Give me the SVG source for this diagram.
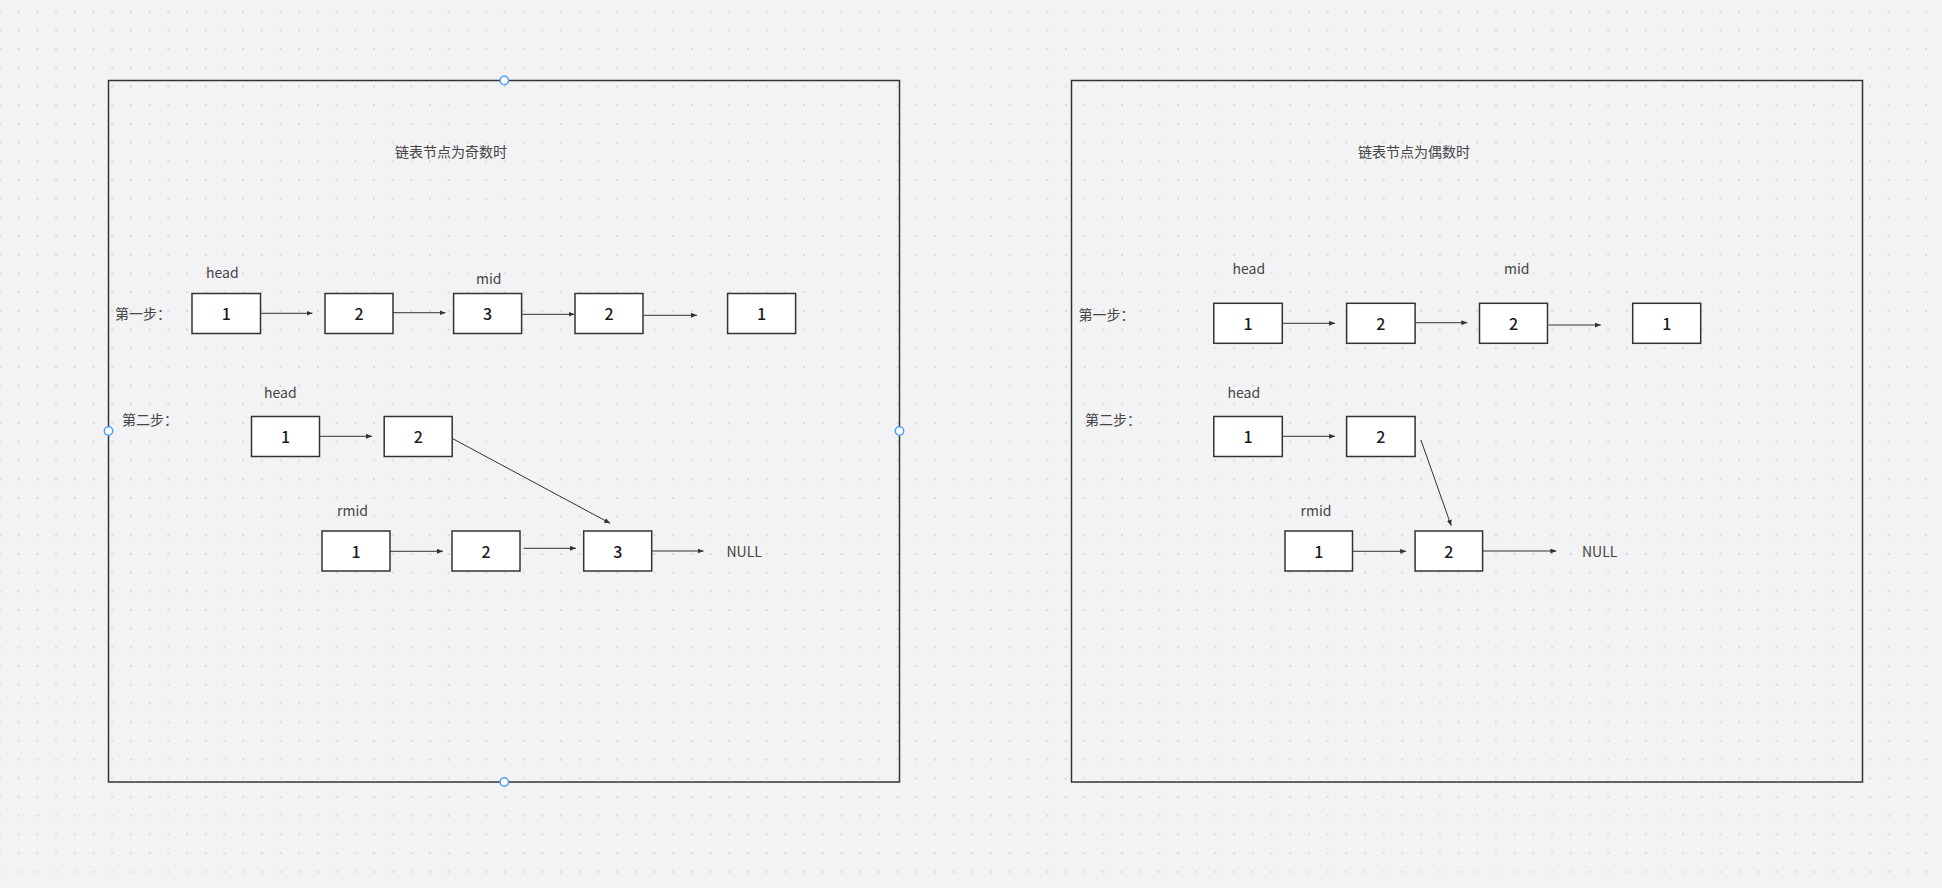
<svg xmlns="http://www.w3.org/2000/svg" width="1942" height="888" viewBox="0 0 1942 888">
<defs>
<pattern id="dots" patternUnits="userSpaceOnUse" x="-1" y="10.7" width="18.7" height="18.7">
<rect x="0" y="0" width="2" height="2" fill="#d9d9dd"/>
</pattern>
<marker id="ah" markerUnits="userSpaceOnUse" markerWidth="6" markerHeight="5" refX="6" refY="2.5" orient="auto">
<path d="M0,0 L6,2.5 L0,5 z" fill="#333"/>
</marker>
<style>
.bx{fill:#fff;stroke:#333;stroke-width:1.5}
.n{font-family:"Noto Sans CJK SC","Noto Sans",sans-serif;font-size:16px;font-weight:500;fill:#1a1a1a;text-anchor:middle;dominant-baseline:central}
.t{font-family:"Noto Sans CJK SC","Noto Sans",sans-serif;font-size:14px;fill:#444;dominant-baseline:central}
.frame{fill:none;stroke:#333;stroke-width:1.5}
.c{fill:none;stroke:#333;stroke-width:1;marker-end:url(#ah)}
.h{fill:#fff;stroke:#4a9ff5;stroke-width:1.5}
</style>
</defs>
<rect width="1942" height="888" fill="#f3f3f5"/>
<rect width="1942" height="888" fill="url(#dots)"/>

<g id="frame-odd">
<rect class="frame" x="108.5" y="80.5" width="791" height="701.5"/>
<text class="t" x="395" y="151">链表节点为奇数时</text>
<text class="t" x="206" y="272">head</text>
<text class="t" x="476" y="278">mid</text>
<text class="t" x="115" y="313">第一步：</text>
<text class="t" x="264" y="392">head</text>
<text class="t" x="122" y="419">第二步：</text>
<text class="t" x="337" y="510">rmid</text>
<text class="t" x="726.5" y="550.5">NULL</text>
</g>
<g id="frame-even">
<rect class="frame" x="1071.5" y="80.5" width="791" height="701.5"/>
<text class="t" x="1358" y="151">链表节点为偶数时</text>
<text class="t" x="1232.5" y="267.5">head</text>
<text class="t" x="1504" y="267.5">mid</text>
<text class="t" x="1078.5" y="314">第一步：</text>
<text class="t" x="1227.5" y="392">head</text>
<text class="t" x="1085" y="419">第二步：</text>
<text class="t" x="1300.5" y="510">rmid</text>
<text class="t" x="1582" y="550.5">NULL</text>
</g>

<g id="odd-s1-n1"><rect class="bx" x="192" y="293.5" width="68.5" height="40"/><text class="n" x="226.2" y="313">1</text></g>
<g id="odd-s1-n2"><rect class="bx" x="325" y="293.5" width="68" height="40"/><text class="n" x="359" y="313">2</text></g>
<g id="odd-s1-n3"><rect class="bx" x="453.6" y="293.5" width="68" height="40"/><text class="n" x="487.6" y="313">3</text></g>
<g id="odd-s1-n4"><rect class="bx" x="575" y="293.5" width="68" height="40"/><text class="n" x="609" y="313">2</text></g>
<g id="odd-s1-n5"><rect class="bx" x="727.6" y="293.5" width="68" height="40"/><text class="n" x="761.6" y="313">1</text></g>

<g id="odd-s2-a1"><rect class="bx" x="251.5" y="416.5" width="68" height="40"/><text class="n" x="285.5" y="436">1</text></g>
<g id="odd-s2-a2"><rect class="bx" x="384.2" y="416.5" width="68" height="40"/><text class="n" x="418.2" y="436">2</text></g>
<g id="odd-s2-b1"><rect class="bx" x="322" y="531" width="68" height="40"/><text class="n" x="356" y="550.5">1</text></g>
<g id="odd-s2-b2"><rect class="bx" x="452" y="531" width="68" height="40"/><text class="n" x="486" y="550.5">2</text></g>
<g id="odd-s2-b3"><rect class="bx" x="583.7" y="531" width="68" height="40"/><text class="n" x="617.7" y="550.5">3</text></g>

<g id="even-s1-n1"><rect class="bx" x="1213.8" y="303.3" width="68.5" height="40"/><text class="n" x="1248" y="322.8">1</text></g>
<g id="even-s1-n2"><rect class="bx" x="1346.6" y="303.3" width="68.5" height="40"/><text class="n" x="1380.8" y="322.8">2</text></g>
<g id="even-s1-n3"><rect class="bx" x="1479.5" y="303.3" width="68" height="40"/><text class="n" x="1513.5" y="322.8">2</text></g>
<g id="even-s1-n4"><rect class="bx" x="1632.7" y="303.3" width="68" height="40"/><text class="n" x="1666.7" y="322.8">1</text></g>

<g id="even-s2-a1"><rect class="bx" x="1213.8" y="416.5" width="68.5" height="40"/><text class="n" x="1248" y="436">1</text></g>
<g id="even-s2-a2"><rect class="bx" x="1346.6" y="416.5" width="68.5" height="40"/><text class="n" x="1380.8" y="436">2</text></g>
<g id="even-s2-b1"><rect class="bx" x="1285" y="531" width="67.5" height="40"/><text class="n" x="1318.7" y="550.5">1</text></g>
<g id="even-s2-b2"><rect class="bx" x="1415.1" y="531" width="67.5" height="40"/><text class="n" x="1448.8" y="550.5">2</text></g>

<g id="connectors">
<line class="c" x1="260.7" y1="313.3" x2="312.5" y2="313.3"/>
<line class="c" x1="393" y1="312.7" x2="445.5" y2="312.7"/>
<line class="c" x1="521.5" y1="314.3" x2="574.5" y2="314.3"/>
<line class="c" x1="644" y1="315.3" x2="697" y2="315.3"/>
<line class="c" x1="319.5" y1="436.3" x2="372" y2="436.3"/>
<line class="c" x1="452" y1="438.3" x2="610.2" y2="523.3"/>
<line class="c" x1="390" y1="551.3" x2="443" y2="551.3"/>
<line class="c" x1="523.5" y1="548.3" x2="576" y2="548.3"/>
<line class="c" x1="651.5" y1="551" x2="703.6" y2="551"/>

<line class="c" x1="1282.3" y1="323.3" x2="1335.1" y2="323.3"/>
<line class="c" x1="1415.1" y1="322.7" x2="1467.4" y2="322.7"/>
<line class="c" x1="1548.5" y1="325" x2="1600.8" y2="325"/>
<line class="c" x1="1282.3" y1="436.3" x2="1335.1" y2="436.3"/>
<line class="c" x1="1420.9" y1="440" x2="1451.2" y2="525.7"/>
<line class="c" x1="1352.4" y1="551.3" x2="1406.2" y2="551.3"/>
<line class="c" x1="1482.6" y1="551" x2="1556.3" y2="551"/>
</g>

<g id="handles">
<circle class="h" cx="504.3" cy="80.5" r="4.2"/>
<circle class="h" cx="504.3" cy="782" r="4.2"/>
<circle class="h" cx="108.5" cy="431" r="4.2"/>
<circle class="h" cx="899.5" cy="431" r="4.2"/>
</g>
</svg>
